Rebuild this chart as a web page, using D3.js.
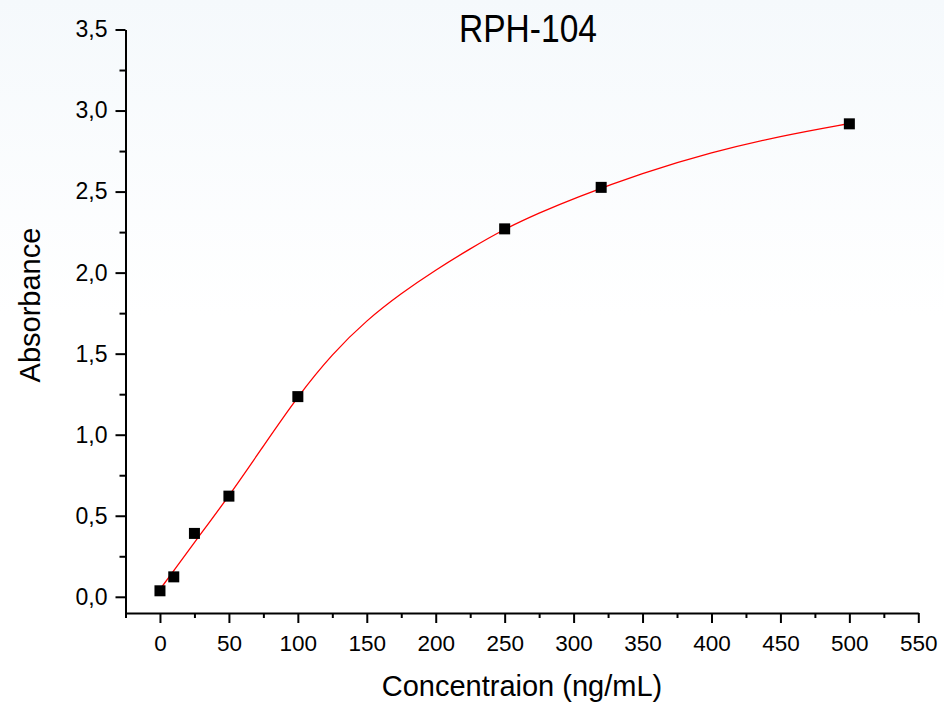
<!DOCTYPE html>
<html>
<head>
<meta charset="utf-8">
<script src="https://cdn.jsdelivr.net/npm/d3@7"></script>
<style>
  body { margin: 0; background: #fff; }
  text { font-family: "Liberation Sans", Arial, sans-serif; fill: #000; }
</style>
</head>
<body>
<div id="chart"></div>
<script>
// measured standards
const concentration = [0, 10, 25, 50, 100, 250, 320, 500];
const absorbance = [0.037, 0.123, 0.391, 0.621, 1.235, 2.27, 2.526, 2.918];

// fitted curve
const fitX = [0, 10, 25, 50, 75, 100, 125, 150, 175, 200, 225, 250, 275, 300, 350, 400, 450, 500];
const fitY = [0.046, 0.16, 0.336, 0.62, 0.93, 1.238, 1.50, 1.708, 1.873, 2.017, 2.148, 2.27, 2.368, 2.458, 2.615, 2.743, 2.843, 2.92];

const xMajor = d3.range(0, 551, 50);
const xMinor = d3.range(-25, 550, 50);
const yMajor = [0, 0.5, 1, 1.5, 2, 2.5, 3, 3.5];
const yMinor = [0.25, 0.75, 1.25, 1.75, 2.25, 2.75, 3.25];

const width = 944
const height = 702

const svg = d3.select("#chart")
  .append("svg")
    .attr("width", width)
    .attr("height", height);

// faint bluish wash at the top, like the export
const grad = svg.append("defs").append("linearGradient")
  .attr("id", "bg").attr("x1", 0).attr("y1", 0).attr("x2", 0).attr("y2", 1);
grad.append("stop").attr("offset", "0%").attr("stop-color", "#f5f9fc");
grad.append("stop").attr("offset", "45%").attr("stop-color", "#ffffff");
svg.append("rect").attr("width", width).attr("height", height).attr("fill", "url(#bg)");

const x = d3.scaleLinear().domain([-25, 550]).range([125.5, 918.3]);
const y = d3.scaleLinear().domain([-0.1, 3.5]).range([613, 29.5]);

const comma = d3.formatLocale({decimal: ",", thousands: ".", grouping: [3], currency: ["", ""]});

// x axis
svg.append("g")
  .attr("transform", `translate(0,${y(-0.1)})`)
  .call(d3.axisBottom(x).tickValues(xMajor).tickSize(10).tickSizeOuter(0).tickPadding(12).tickFormat(d3.format("d")));
svg.append("g")
  .attr("transform", `translate(0,${y(-0.1)})`)
  .call(d3.axisBottom(x).tickValues(xMinor).tickSize(5).tickSizeOuter(0).tickFormat(""))
  .select(".domain").remove();

// y axis
svg.append("g")
  .attr("class", "yax")
  .attr("transform", `translate(${x(-25)},0)`)
  .call(d3.axisLeft(y).tickValues(yMajor).tickSize(10).tickSizeOuter(0).tickPadding(8).tickFormat(comma.format(".1f")));
svg.append("g")
  .attr("transform", `translate(${x(-25)},0)`)
  .call(d3.axisLeft(y).tickValues(yMinor).tickSize(6).tickSizeOuter(0).tickFormat(""))
  .select(".domain").remove();

svg.selectAll(".domain, .tick line")
  .attr("stroke", "#000")
  .attr("stroke-width", 2);
svg.selectAll(".tick text")
  .style("font-family", "'Liberation Sans', Arial, sans-serif")
  .style("font-size", "22.5px")
  .attr("fill", "#000");
svg.selectAll(".yax .tick text").style("font-size", "23px");

// fitted curve
const line = d3.line()
  .x((d, i) => x(fitX[i]))
  .y(d => y(d))
  .curve(d3.curveBasis);

svg.append("path")
  .datum(fitY)
  .attr("d", line)
  .attr("fill", "none")
  .attr("stroke", "#ff0000")
  .attr("stroke-width", 1.3);

// squares for the standards
const s = 11;
svg.selectAll("rect.pt")
  .data(concentration)
  .join("rect")
    .attr("class", "pt")
    .attr("x", d => x(d) - s / 2)
    .attr("y", (d, i) => y(absorbance[i]) - s / 2)
    .attr("width", s)
    .attr("height", s)
    .attr("fill", "#000");

// labels
svg.append("text")
  .attr("x", 528)
  .attr("y", 42.3)
  .attr("text-anchor", "middle")
  .attr("textLength", 138)
  .attr("lengthAdjust", "spacingAndGlyphs")
  .style("font-size", "38px")
  .text("RPH-104");

svg.append("text")
  .attr("x", 522)
  .attr("y", 696)
  .attr("text-anchor", "middle")
  .style("font-size", "29px")
  .text("Concentraion (ng/mL)");

svg.append("text")
  .attr("transform", "translate(40,305) rotate(-90)")
  .attr("text-anchor", "middle")
  .style("font-size", "29px")
  .text("Absorbance");
</script>
</body>
</html>
